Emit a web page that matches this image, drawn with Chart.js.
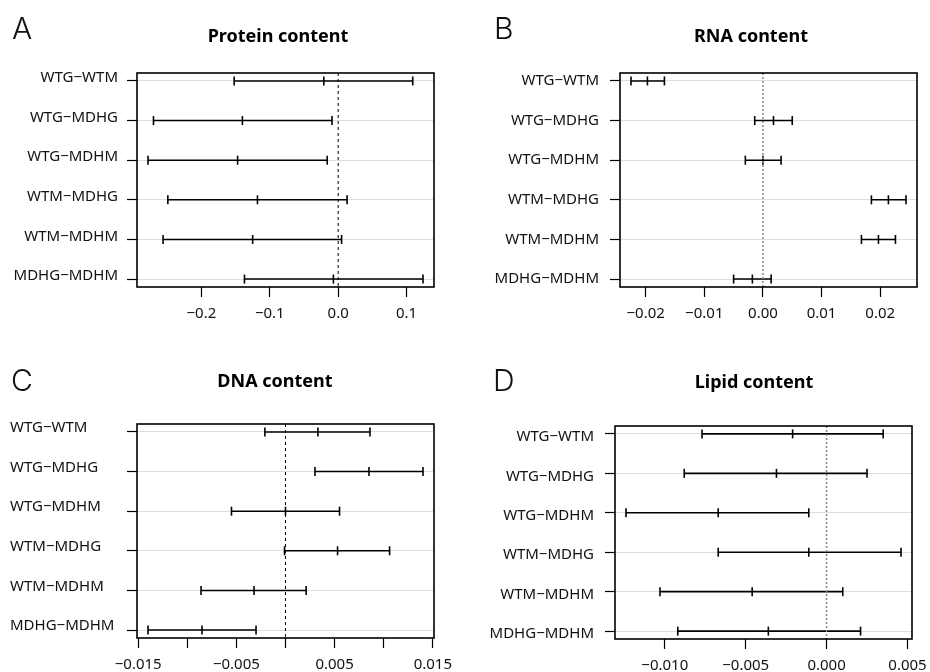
<!DOCTYPE html>
<html>
<head>
<meta charset="utf-8">
<script src="https://cdn.jsdelivr.net/npm/chart.js@4.4.1/dist/chart.umd.min.js"></script>
<style>
  html, body { margin: 0; padding: 0; background: #fff; }
  #page { position: relative; width: 930px; height: 672px; overflow: hidden; }
  canvas { position: absolute; }
  .letter { position: absolute; font-family: Inter, "Noto Sans", sans-serif; font-weight: 300; font-size: 30px; line-height: 1; color: #111; }
  .title { position: absolute; font-family: "Noto Sans", sans-serif; font-weight: 700; font-size: 18px; line-height: 1; color: #000; transform: translateX(-50%); white-space: nowrap; }
</style>
</head>
<body>
<div id="page">
  <canvas id="protein-chart" width="465" height="330" style="left:0;top:0"></canvas>
  <canvas id="rna-chart" width="465" height="330" style="left:465px;top:0"></canvas>
  <canvas id="dna-chart" width="465" height="336" style="left:0;top:336px"></canvas>
  <canvas id="lipid-chart" width="465" height="336" style="left:465px;top:336px"></canvas>

  <div class="letter" style="left:12px;top:13px">A</div>
  <div class="title" style="left:278px;top:26px">Protein content</div>
  <div class="letter" style="left:494px;top:13px">B</div>
  <div class="title" style="left:751px;top:26px">RNA content</div>
  <div class="letter" style="left:11px;top:365px">C</div>
  <div class="title" style="left:275px;top:371px">DNA content</div>
  <div class="letter" style="left:493px;top:365px">D</div>
  <div class="title" style="left:754px;top:372px">Lipid content</div>
</div>

<script>
// Pairwise group comparisons, listed top to bottom
const comparisons = ['WTG−WTM', 'WTG−MDHG', 'WTG−MDHM', 'WTM−MDHG', 'WTM−MDHM', 'MDHG−MDHM'];

// Protein content: mean difference and 95% family-wise interval
const proteinDiff = [-0.021, -0.140, -0.147, -0.118, -0.125, -0.007];
const proteinLwr = [-0.152, -0.270, -0.278, -0.249, -0.256, -0.137];
const proteinUpr = [0.109, -0.009, -0.016, 0.013, 0.005, 0.124];
const proteinTicks = [-0.2, -0.1, 0.0, 0.1];
const proteinTickLabels = ['−0.2', '−0.1', '0.0', '0.1'];

// RNA content
const rnaDiff = [-0.0197, 0.0018, 0.0000, 0.0214, 0.0197, -0.0018];
const rnaLwr = [-0.0225, -0.0014, -0.0030, 0.0185, 0.0168, -0.0050];
const rnaUpr = [-0.0168, 0.0050, 0.0031, 0.0244, 0.0226, 0.0014];
const rnaTicks = [-0.02, -0.01, 0.0, 0.01, 0.02];
const rnaTickLabels = ['−0.02', '−0.01', '0.00', '0.01', '0.02'];

// DNA content
const dnaDiff = [0.0033, 0.0085, 0.0000, 0.0053, -0.0032, -0.0085];
const dnaLwr = [-0.0021, 0.0030, -0.0055, -0.0001, -0.0086, -0.0140];
const dnaUpr = [0.0086, 0.0140, 0.0055, 0.0106, 0.0021, -0.0030];
const dnaTicks = [-0.015, -0.010, -0.005, 0.0, 0.005, 0.010, 0.015];
const dnaTickLabels = ['−0.015', '', '−0.005', '', '0.005', '', '0.015'];

// Lipid content
const lipidDiff = [-0.0021, -0.0031, -0.0067, -0.0011, -0.0046, -0.0036];
const lipidLwr = [-0.0077, -0.0088, -0.0124, -0.0067, -0.0103, -0.0092];
const lipidUpr = [0.0035, 0.0025, -0.0011, 0.0046, 0.0010, 0.0021];
const lipidTicks = [-0.010, -0.005, 0.0, 0.005];
const lipidTickLabels = ['−0.010', '−0.005', '0.000', '0.005'];

const labelFont = { family: '"Noto Sans", sans-serif', size: 15 };

// Draws the closed frame round the plotting region
const frameBox = {
  id: 'frameBox',
  afterDraw(chart) {
    const { ctx, chartArea: a } = chart;
    ctx.save();
    ctx.strokeStyle = '#000';
    ctx.lineWidth = 1.6;
    ctx.strokeRect(a.left, a.top, a.right - a.left, a.bottom - a.top);
    ctx.restore();
  }
};

// Fixed axis sizes; labels hanging past the ends must not shrink the plot
function fixSize(scale, size) {
  if (scale.isHorizontal()) scale.height = size;
  else scale.width = size;
  scale.paddingLeft = 0;
  scale.paddingRight = 0;
  scale.paddingTop = 0;
  scale.paddingBottom = 0;
}

function drawIntervalChart(canvasId, panel) {
  const { diff, lwr, upr, ticks, tickLabels } = panel;

  // Axis range: data extent padded by 4% on each side
  const lo = Math.min(...lwr);
  const hi = Math.max(...upr);
  const span = hi - lo;
  const xMin = lo - 0.04 * span;
  const xMax = hi + 0.04 * span;

  const datasets = comparisons.map((name, i) => ({
    label: name,
    data: [
      { x: lwr[i], y: i + 1 },
      { x: diff[i], y: i + 1 },
      { x: upr[i], y: i + 1 }
    ],
    showLine: true,
    borderColor: '#000',
    borderWidth: 1.6,
    pointStyle: 'line',
    pointRotation: 90,
    pointRadius: 4.5,
    pointBorderColor: '#000',
    pointBorderWidth: 1.6
  }));

  // Reference line at zero difference
  datasets.unshift({
    label: 'zero',
    data: [{ x: 0, y: 0.8 }, { x: 0, y: 6.2 }],
    showLine: true,
    borderColor: panel.zeroColor,
    borderWidth: panel.zeroWidth,
    borderDash: panel.zeroDash,
    pointRadius: 0
  });

  return new Chart(document.getElementById(canvasId), {
    type: 'scatter',
    data: { datasets: datasets },
    options: {
      responsive: false,
      animation: false,
      devicePixelRatio: 1,
      events: [],
      layout: {
        padding: { left: panel.padLeft, right: panel.padRight, top: panel.padTop, bottom: 0 }
      },
      plugins: {
        legend: { display: false },
        tooltip: { enabled: false }
      },
      scales: {
        x: {
          type: 'linear',
          min: xMin,
          max: xMax,
          afterBuildTicks: scale => { scale.ticks = ticks.map(v => ({ value: v })); },
          afterFit: scale => fixSize(scale, panel.xAxisHeight),
          ticks: {
            autoSkip: false,
            maxRotation: 0,
            minRotation: 0,
            padding: 8,
            color: '#111',
            font: labelFont,
            callback: (value, index) => tickLabels[index]
          },
          grid: {
            drawOnChartArea: false,
            tickLength: 10,
            tickColor: '#000',
            tickWidth: 1.2,
            color: '#000'
          },
          border: { display: false }
        },
        y: {
          type: 'linear',
          reverse: true,
          min: 0.8,
          max: 6.2,
          afterBuildTicks: scale => { scale.ticks = comparisons.map((c, i) => ({ value: i + 1 })); },
          afterFit: scale => fixSize(scale, panel.yAxisWidth),
          ticks: {
            autoSkip: false,
            padding: panel.labelPad,
            crossAlign: panel.crossAlign,
            labelOffset: panel.labelShift,
            color: '#111',
            font: labelFont,
            callback: (value, index) => comparisons[index]
          },
          grid: {
            color: '#dedede',
            lineWidth: 1,
            tickLength: 10,
            tickColor: '#000',
            tickWidth: 1.2
          },
          border: { display: false }
        }
      }
    },
    plugins: [frameBox]
  });
}

drawIntervalChart('protein-chart', {
  diff: proteinDiff, lwr: proteinLwr, upr: proteinUpr,
  ticks: proteinTicks, tickLabels: proteinTickLabels,
  padLeft: 0, padRight: 31, padTop: 73, yAxisWidth: 137, xAxisHeight: 43,
  labelPad: 9, crossAlign: 'near', labelShift: -3,
  zeroColor: '#000', zeroWidth: 1, zeroDash: [3, 3]
});

drawIntervalChart('rna-chart', {
  diff: rnaDiff, lwr: rnaLwr, upr: rnaUpr,
  ticks: rnaTicks, tickLabels: rnaTickLabels,
  padLeft: 0, padRight: 13, padTop: 73, yAxisWidth: 155, xAxisHeight: 43,
  labelPad: 11, crossAlign: 'near', labelShift: 0,
  zeroColor: '#888', zeroWidth: 1.5, zeroDash: [2, 2]
});

drawIntervalChart('dna-chart', {
  diff: dnaDiff, lwr: dnaLwr, upr: dnaUpr,
  ticks: dnaTicks, tickLabels: dnaTickLabels,
  padLeft: 10, padRight: 31, padTop: 88, yAxisWidth: 127, xAxisHeight: 34,
  labelPad: 9, crossAlign: 'far', labelShift: -4,
  zeroColor: '#000', zeroWidth: 1, zeroDash: [3, 3]
});

drawIntervalChart('lipid-chart', {
  diff: lipidDiff, lwr: lipidLwr, upr: lipidUpr,
  ticks: lipidTicks, tickLabels: lipidTickLabels,
  padLeft: 0, padRight: 18, padTop: 90, yAxisWidth: 150, xAxisHeight: 33,
  labelPad: 11, crossAlign: 'near', labelShift: 3,
  zeroColor: '#888', zeroWidth: 1.5, zeroDash: [2, 2]
});
</script>
</body>
</html>
